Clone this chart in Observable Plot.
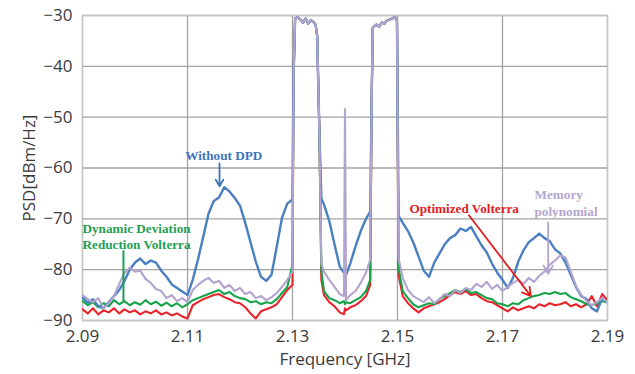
<!DOCTYPE html>
<html><head><meta charset="utf-8">
<script src="https://cdn.jsdelivr.net/npm/d3@7"></script>
<script src="https://cdn.jsdelivr.net/npm/@observablehq/plot@0.6"></script>
<style>body{margin:0;background:#fff}</style>
</head><body><div id="chart"></div>
<script>
// ---- Data (GHz, dBm/Hz) ----
const xTicks = [2.09, 2.11, 2.13, 2.15, 2.17, 2.19];
const yTicks = [-90, -80, -70, -60, -50, -40, -30];

// sampling grids
const leftFreq = d3.range(41).map(i => +(2.090 + i * 0.001).toFixed(4));
const carrier1Freq = [2.1302, 2.1305, 2.131, 2.1315, 2.132, 2.1325, 2.133, 2.1335, 2.134, 2.1344, 2.1347, 2.1351];
const gapFreq = [2.1355, 2.136, 2.137, 2.138, 2.139, 2.1398, 2.140, 2.1402, 2.141, 2.142, 2.143, 2.144, 2.1448];
const carrier2Freq = [2.1451, 2.1453, 2.146, 2.1465, 2.147, 2.1475, 2.148, 2.1485, 2.149, 2.1495, 2.1499];
const rightFreq = [2.1502].concat(d3.range(40).map(i => +(2.151 + i * 0.001).toFixed(4)));

// shared carrier levels
const carrier1PSD = [-42, -30.6, -30.3, -30.8, -31.4, -30.6, -31.6, -30.9, -31.3, -31.8, -34, -52];
const carrier2PSD = [-45, -32.4, -31.8, -32.2, -31.4, -31.6, -31.0, -30.8, -30.6, -30.3, -31];

// Without DPD
const blueLeft = [-85.5,-86.5,-85.8,-87.2,-87.6,-86.4,-85.2,-84.0,-82.2,-80.0,
  -78.6,-77.8,-78.9,-78.2,-78.6,-80.2,-81.4,-82.9,-83.6,-84.3,
  -85.0,-82.0,-78.0,-73.5,-69.0,-66.5,-65.8,-63.8,-64.6,-65.9,
  -67.4,-70.8,-74.6,-78.4,-81.4,-82.2,-81.0,-75.5,-69.8,-67.0,-66.2];
const blueGap = [-66.0,-67.2,-70.4,-75.0,-79.4,-80.6,-80.2,-81.0,-78.8,-75.4,-72.4,-70.0,-68.6];
const blueRight = [-69.4,-70.8,-72.4,-74.6,-77.4,-80.2,-81.4,-78.6,-76.8,-75.0,
  -73.8,-73.2,-71.9,-72.4,-71.6,-73.4,-75.2,-76.6,-78.8,-80.6,
  -82.0,-83.6,-81.6,-78.4,-76.2,-74.6,-73.8,-72.9,-73.8,-74.4,
  -76.0,-76.8,-78.6,-81.0,-83.4,-85.2,-85.8,-87.6,-88.2,-85.6,-86.4];

// Memory polynomial
const lavLeft = [-85.0,-85.8,-86.4,-85.6,-87.6,-86.6,-85.2,-82.8,-80.6,-79.6,
  -80.4,-80.2,-81.8,-82.6,-83.8,-84.2,-85.6,-85.0,-86.2,-85.6,
  -86.4,-84.0,-83.0,-82.2,-81.6,-82.6,-82.2,-83.6,-83.0,-84.2,
  -83.6,-84.8,-84.4,-85.6,-85.2,-86.0,-85.4,-84.6,-83.4,-82.0,-80.4];
const lavGap = [-78.8,-80.4,-82.0,-83.4,-84.8,-85.2,-48.4,-86.0,-85.0,-84.2,-82.6,-80.6,-78.0];
const lavRight = [-77.8,-81.6,-84.0,-85.2,-85.8,-86.4,-85.4,-86.6,-85.8,-84.8,
  -85.2,-84.0,-84.6,-83.6,-84.0,-82.8,-83.4,-82.4,-83.8,-83.0,
  -84.2,-83.4,-82.6,-82.0,-82.8,-81.6,-82.4,-81.2,-80.4,-79.0,
  -78.2,-77.2,-77.6,-80.4,-83.2,-85.0,-86.2,-87.0,-86.4,-85.6,-86.4];

// Dynamic Deviation Reduction Volterra
const greenLeft = [-86.2,-87.0,-86.4,-87.4,-86.6,-87.2,-86.0,-86.8,-86.2,-87.0,
  -86.4,-86.9,-86.0,-86.8,-86.3,-87.1,-86.5,-87.2,-86.6,-87.4,
  -86.8,-86.0,-85.6,-85.2,-84.8,-84.4,-84.0,-84.8,-84.4,-85.2,
  -85.6,-85.8,-86.4,-86.2,-86.8,-86.4,-86.6,-85.8,-84.6,-83.4,-79.0];
const greenGap = [-80.2,-84.2,-85.6,-86.0,-86.6,-86.2,-86.8,-86.4,-86.6,-86.0,-85.4,-84.2,-82.0];
const greenRight = [-79.6,-84.2,-85.6,-86.8,-87.4,-87.0,-86.6,-86.8,-85.8,-85.2,
  -84.6,-84.0,-84.4,-83.8,-84.6,-84.4,-85.0,-85.6,-85.8,-86.6,
  -86.8,-87.2,-86.6,-86.8,-86.0,-85.6,-85.2,-85.0,-84.6,-84.8,
  -84.4,-84.8,-84.6,-85.4,-85.8,-86.2,-86.8,-87.0,-86.6,-86.2,-86.4];

// Optimized Volterra
const redLeft = [-87.8,-88.6,-87.6,-88.8,-88.0,-88.4,-87.6,-88.6,-87.8,-88.4,
  -88.0,-88.8,-88.2,-88.6,-88.0,-88.8,-88.4,-89.0,-88.6,-89.2,
  -89.6,-87.0,-86.4,-85.8,-85.4,-85.0,-84.8,-85.4,-85.8,-86.4,
  -86.6,-87.4,-88.6,-89.6,-88.2,-87.8,-87.4,-86.8,-85.4,-84.0,-83.0];
const redGap = [-82.0,-85.0,-86.4,-87.2,-88.4,-88.8,-87.6,-88.0,-87.4,-87.0,-86.2,-85.2,-83.0];
const redRight = [-81.0,-85.2,-86.6,-87.6,-88.4,-87.6,-87.2,-86.8,-86.4,-85.8,
  -85.0,-84.4,-84.8,-84.2,-85.0,-84.8,-85.6,-86.2,-86.4,-87.0,
  -87.6,-88.2,-87.4,-88.0,-87.6,-87.2,-87.6,-86.8,-87.2,-86.6,
  -87.0,-86.8,-86.4,-87.2,-86.8,-87.4,-86.8,-85.2,-87.2,-84.8,-86.0];

const labelsMiddle = [
  {text: "Without DPD", x: 2.1169, y: -57.5, color: "#3d74bb"},
  {text: "Optimized Volterra", x: 2.1627, y: -68.0, color: "#e0201f"}
];
const labelsStart = [
  {text: "Dynamic Deviation", x: 2.0900, y: -71.9, color: "#1f9e52"},
  {text: "Reduction Volterra", x: 2.0900, y: -75.1, color: "#1f9e52"},
  {text: "Memory", x: 2.1761, y: -65.2, color: "#b3a6cc"},
  {text: "polynomial", x: 2.1761, y: -68.6, color: "#b3a6cc"}
];
const arrows = [
  {x1: 2.1161, y1: -59.1, x2: 2.1161, y2: -63.6, color: "#3d74bb"},
  {x1: 2.1636, y1: -69.3, x2: 2.1754, y2: -85.2, color: "#e0201f"},
  {x1: 2.1787, y1: -70.7, x2: 2.1787, y2: -80.8, color: "#b3a6cc"}
];
const pointers = [{x1: 2.0978, y1: -76.2, x2: 2.0978, y2: -86.2, color: "#1f9e52"}];

// ---- assemble ----
const freq = [...leftFreq, ...carrier1Freq, ...gapFreq, ...carrier2Freq, ...rightFreq];
const join = (l, g, r) => [...l, ...carrier1PSD, ...g, ...carrier2PSD, ...r];
const series = [
  {name: "Optimized Volterra", psd: join(redLeft, redGap, redRight), color: "#e8232a", w: 2.1},
  {name: "DDR Volterra", psd: join(greenLeft, greenGap, greenRight), color: "#17a34a", w: 2.1},
  {name: "Without DPD", psd: join(blueLeft, blueGap, blueRight), color: "#4a7fc1", w: 2.4},
  {name: "Memory polynomial", psd: join(lavLeft, lavGap, lavRight), color: "#b2a3cf", w: 2.1}
];

const textStyle = {x: "x", y: "y", text: "text", fill: "color", fontFamily: "'Liberation Serif', serif", fontWeight: "bold", fontSize: 13.2};

const chart = Plot.plot({
  width: 635, height: 374,
  marginLeft: 82, marginRight: 28, marginTop: 15, marginBottom: 54,
  style: {fontFamily: "'Open Sans', sans-serif", fontSize: "17px", color: "#3a3a3a", background: "#fff"},
  x: {domain: [2.09, 2.19]},
  y: {domain: [-90, -30]},
  marks: [
    Plot.ruleX(xTicks, {stroke: "#a3a3a3", strokeWidth: 1.3}),
    Plot.ruleY(yTicks, {stroke: "#a3a3a3", strokeWidth: 1.3}),
    Plot.frame({stroke: "#c4c4c4", strokeWidth: 1.3}),
    ...series.map(s => Plot.line(freq, {x: d => d, y: s.psd, stroke: s.color, strokeWidth: s.w, clip: true, strokeLinejoin: "round"})),
    Plot.link(pointers, {x1: "x1", y1: "y1", x2: "x2", y2: "y2", stroke: "color", strokeWidth: 2}),
    Plot.arrow(arrows, {x1: "x1", y1: "y1", x2: "x2", y2: "y2", stroke: "color", strokeWidth: 1.8, headLength: 8}),
    Plot.text(labelsMiddle, {...textStyle, textAnchor: "middle"}),
    Plot.text(labelsStart, {...textStyle, textAnchor: "start"}),
    Plot.axisX(xTicks, {tickFormat: d => d.toFixed(2), tickSize: 0, tickPadding: 9, label: "Frequency [GHz]", labelAnchor: "center", labelOffset: 44, labelArrow: "none"}),
    Plot.axisY(yTicks, {tickSize: 0, tickPadding: 10, label: "PSD[dBm/Hz]", labelAnchor: "center", labelOffset: 60, labelArrow: "none"})
  ]
});
document.getElementById("chart").appendChild(chart);
</script>
</body></html>
